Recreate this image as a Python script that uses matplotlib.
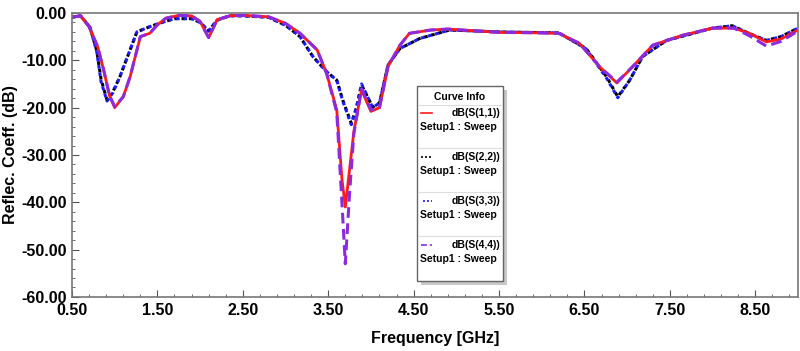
import matplotlib.pyplot as plt
from matplotlib.lines import Line2D
from matplotlib.patches import Rectangle
from matplotlib.ticker import MultipleLocator, FormatStrFormatter

plt.rcParams['font.family'] = ['Liberation Sans', 'DejaVu Sans']
plt.rcParams['font.weight'] = 'bold'

# S11 / S44 (solid red, dashed purple)
f11 = [0.5, 0.6, 0.7, 0.8, 0.87, 0.94, 1.0, 1.1, 1.18, 1.3, 1.41, 1.5, 1.6, 1.75,
       1.9, 2.0, 2.1, 2.2, 2.35, 2.5, 2.8, 3.0, 3.17, 3.37, 3.48, 3.6, 3.66, 3.7,
       3.75, 3.8, 3.89, 4.0, 4.1, 4.2, 4.34, 4.45, 4.7, 4.9, 5.5, 6.0, 6.2, 6.44,
       6.68, 6.88, 7.06, 7.3, 7.65, 8.0, 8.25, 8.43, 8.63, 8.8, 9.0]
s11 = [-0.9, -0.6, -2.9, -7.1, -12.0, -17.5, -20.0, -17.7, -13.5, -5.0, -4.3, -2.5,
       -1.1, -0.5, -0.6, -1.8, -5.2, -1.4, -0.6, -0.5, -0.8, -2.2, -4.3, -7.8,
       -12.7, -20.5, -35.0, -41.0, -33.0, -25.0, -16.3, -20.8, -20.0, -11.3, -6.8,
       -4.3, -3.6, -3.4, -4.1, -4.2, -4.3, -6.4, -11.4, -14.8, -11.4, -6.8, -4.7,
       -3.2, -3.2, -4.3, -6.1, -5.5, -3.6]
s44 = [-0.9, -0.6, -2.9, -7.1, -12.0, -17.5, -19.8, -17.7, -13.5, -5.0, -4.3, -2.5,
       -1.1, -0.5, -0.6, -1.8, -5.2, -1.4, -0.6, -0.5, -0.8, -2.2, -4.3, -7.8,
       -12.7, -21.0, -40.0, -53.0, -38.0, -25.5, -16.0, -20.5, -20.0, -11.3, -6.8,
       -4.3, -3.6, -3.4, -4.1, -4.2, -4.3, -6.4, -11.4, -14.6, -11.4, -6.8, -4.7,
       -3.2, -3.2, -4.8, -7.0, -6.0, -3.8]

# S22 / S33 (dotted black, dotted blue)
f22 = [0.5, 0.6, 0.71, 0.79, 0.84, 0.91, 0.98, 1.06, 1.18, 1.26, 1.41, 1.55, 1.7,
       1.9, 2.0, 2.1, 2.2, 2.35, 2.5, 2.8, 3.0, 3.17, 3.32, 3.48, 3.6, 3.67, 3.77,
       3.83, 3.89, 4.02, 4.1, 4.2, 4.34, 4.57, 4.92, 5.5, 6.2, 6.52, 6.76, 6.89,
       7.03, 7.18, 7.46, 8.0, 8.23, 8.45, 8.63, 8.8, 9.0]
s22 = [-0.9, -0.6, -3.0, -8.0, -14.0, -18.4, -16.6, -13.5, -7.8, -4.0, -2.9, -2.0,
       -1.2, -1.2, -2.0, -3.8, -1.5, -0.6, -0.6, -0.9, -2.6, -5.0, -9.2, -12.4,
       -14.2, -18.4, -23.3, -20.0, -15.2, -19.9, -19.0, -11.0, -7.5, -5.4, -3.6,
       -4.0, -4.2, -7.5, -13.5, -17.7, -14.2, -9.2, -5.8, -3.2, -2.7, -4.5, -5.8,
       -5.0, -3.2]
s33 = [-0.9, -0.6, -3.0, -8.2, -14.5, -18.6, -16.8, -13.5, -7.8, -4.0, -2.9, -2.0,
       -1.2, -1.2, -2.0, -3.8, -1.5, -0.6, -0.6, -0.9, -2.6, -5.0, -9.2, -12.4,
       -14.2, -18.6, -23.6, -20.0, -15.0, -20.0, -19.0, -11.0, -7.5, -5.4, -3.6,
       -4.0, -4.2, -7.6, -13.8, -17.9, -14.2, -9.2, -5.8, -3.2, -2.7, -4.5, -5.8,
       -5.0, -3.2]

names = ['dB(S(1,1))', 'dB(S(2,2))', 'dB(S(3,3))', 'dB(S(4,4))']

fig = plt.figure(figsize=(8, 3.51), dpi=100)
ax = fig.add_axes([0.09, 0.154, 0.9075, 0.809])

st22 = dict(color='black', lw=2.2, ls=(0, (1.2, 1.2)))
st33 = dict(color='#1a1aff', lw=2.2, ls=(1.2, (1.2, 1.2)))
st11 = dict(color='#ff1a1a', lw=2.0, ls='-')
st44 = dict(color='#8a2be2', lw=2.2, ls=(0, (3.5, 1.8)))

ax.plot(f22, s22, **st22)
ax.plot(f22, s33, **st33)
ax.plot(f11, s11, **st11)
ax.plot(f11, s44, **st44)

ax.set_xlim(0.5, 9.0)
ax.set_ylim(-60, 0)
ax.xaxis.set_major_locator(MultipleLocator(1.0, offset=0.5))
ax.xaxis.set_minor_locator(MultipleLocator(0.2, offset=0.1))
ax.yaxis.set_major_locator(MultipleLocator(10))
ax.yaxis.set_minor_locator(MultipleLocator(2))
ax.xaxis.set_major_formatter(FormatStrFormatter('%.2f'))
ax.yaxis.set_major_formatter(FormatStrFormatter('%.2f'))
ax.tick_params(which='both', direction='in', color='#555555', top=False, right=False)
ax.tick_params(which='major', length=5, labelsize=11.5, pad=4)
ax.tick_params(which='minor', length=2.5)
for sp in ax.spines.values():
    sp.set_color('#777777')
    sp.set_linewidth(1.2)
ax.set_xlabel('Frequency [GHz]', fontsize=11.5, fontweight='bold', labelpad=10)
ax.set_ylabel('Reflec. Coeff. (dB)', fontsize=11.5, fontweight='bold', labelpad=2)

# Curve Info box (figure pixel coords converted to fractions)
W, H = 800.0, 351.0
def fx(px):
    return px / W
def fy(py):
    return 1 - py / H

x0, x1, y0, y1 = 417, 503, 86, 281
fig.patches.append(Rectangle((fx(x0 + 4), fy(y1 + 4)), fx(x1 - x0), fy(y0) - fy(y1),
                             transform=fig.transFigure, facecolor='#c8c8c8',
                             edgecolor='none', zorder=5))
fig.patches.append(Rectangle((fx(x0), fy(y1)), fx(x1 - x0), fy(y0) - fy(y1),
                             transform=fig.transFigure, facecolor='white',
                             edgecolor='#666666', lw=1.0, zorder=6))
fig.text(fx(460), fy(97), 'Curve Info', ha='center', va='center', fontsize=7.5,
         fontweight='bold', zorder=7)
for sy in [105, 148, 192, 236]:
    fig.add_artist(Line2D([fx(x0 + 1), fx(x1 - 1)], [fy(sy), fy(sy)],
                          transform=fig.transFigure, color='#dddddd', lw=0.8, zorder=7))
styles = [st11, st22, st33, st44]
rows = [113, 157, 201, 245]
for name, st, ry in zip(names, styles, rows):
    s = dict(st)
    s['lw'] = 1.2
    fig.add_artist(Line2D([fx(421), fx(432)], [fy(ry), fy(ry)],
                          transform=fig.transFigure, zorder=7, **s))
    fig.text(fx(500), fy(ry), name, ha='right', va='center', fontsize=7.5,
             fontweight='bold', zorder=7)
    fig.text(fx(420), fy(ry + 14), 'Setup1 : Sweep', ha='left', va='center',
             fontsize=7.5, fontweight='bold', zorder=7)

fig.savefig('out.png', dpi=100)
